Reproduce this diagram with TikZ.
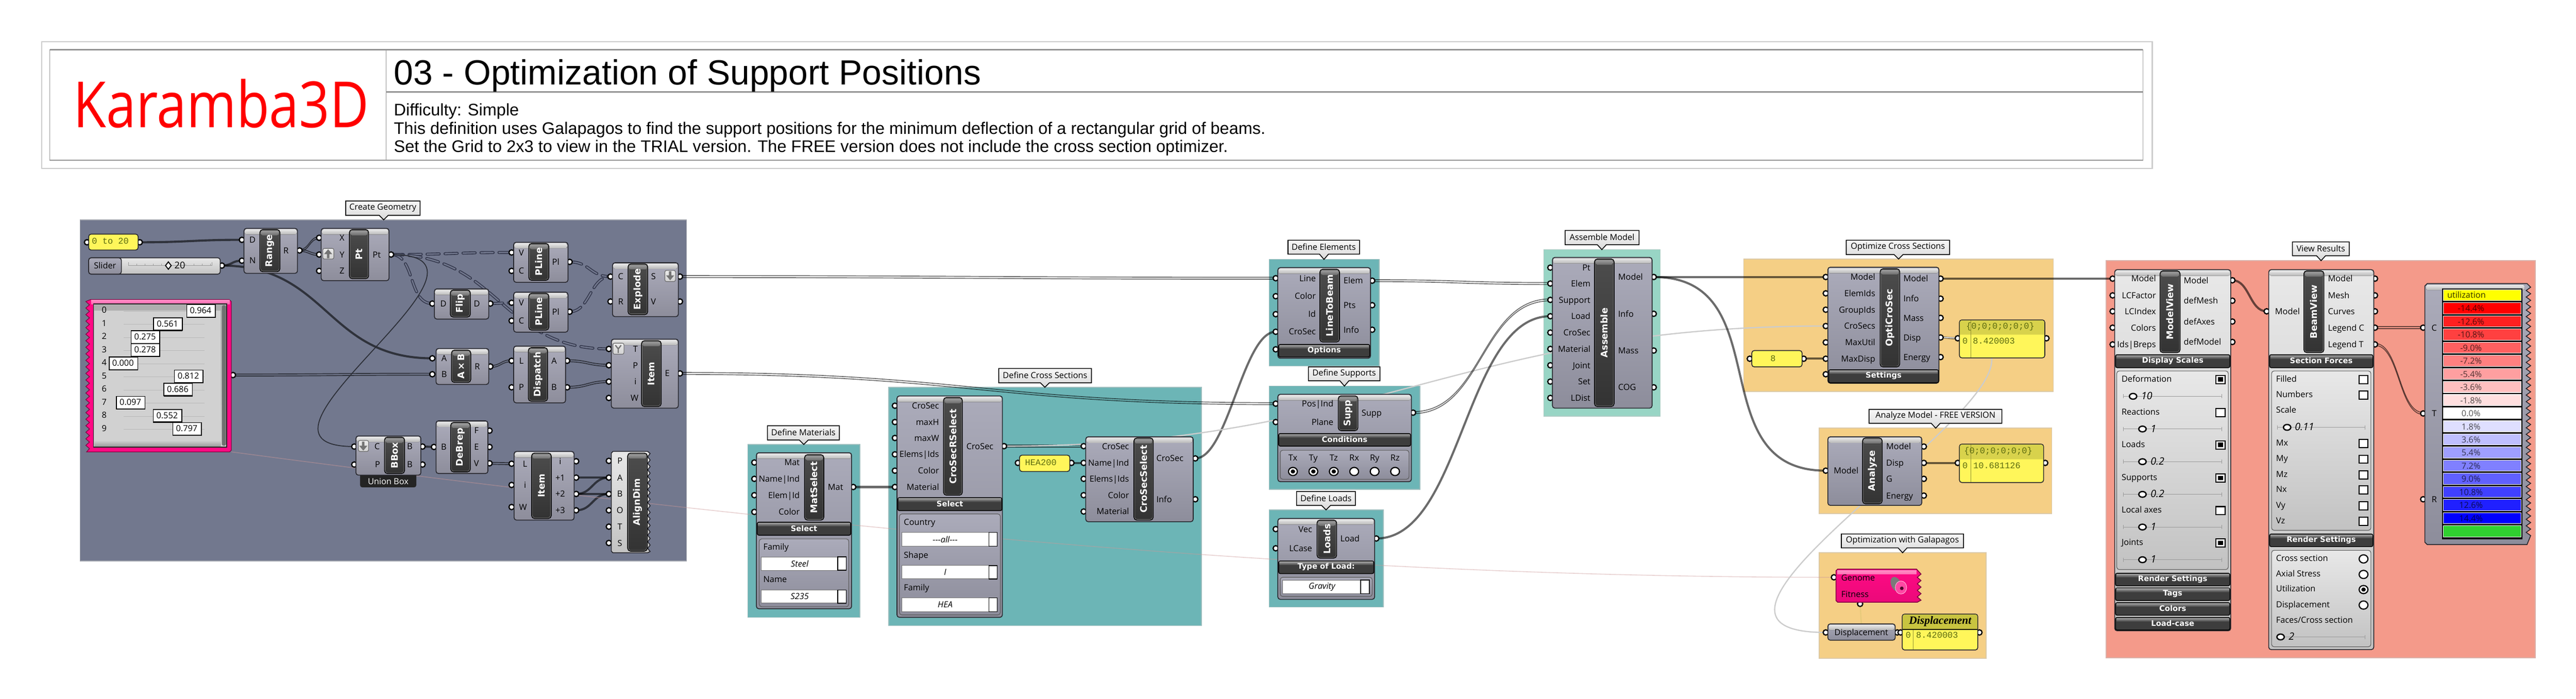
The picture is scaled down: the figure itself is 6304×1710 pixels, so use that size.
\documentclass[tikz,border=0pt]{standalone}
\usepackage{fontspec}
\usetikzlibrary{calc}
\setmainfont{Open Sans}
\newfontfamily\djv{DejaVu Sans}
\newfontfamily\libs{Liberation Sans}
\newfontfamily\monof{Liberation Mono}
\newfontfamily\serf{Liberation Serif}
\pgfdeclarelayer{grp}\pgfdeclarelayer{wires}\pgfdeclarelayer{pins}
\pgfsetlayers{grp,wires,pins,main}
\definecolor{bodyT}{HTML}{ABABBA}\definecolor{bodyB}{HTML}{8D8D9B}
\definecolor{lightT}{HTML}{E8E8E8}\definecolor{lightB}{HTML}{C2C2C2}
\definecolor{outl}{HTML}{26262C}
\definecolor{slate}{HTML}{72788E}\definecolor{teal1}{HTML}{6CB5B6}\definecolor{mint}{HTML}{98D5C5}
\definecolor{orng}{HTML}{F5CF85}\definecolor{salm}{HTML}{F49A8A}
\definecolor{ypan}{HTML}{FFF65A}\definecolor{yhead}{HTML}{D8D24C}\definecolor{yhead2}{HTML}{C8C440}\definecolor{monoc}{HTML}{5C6B10}
\definecolor{pinkc}{HTML}{FF0A84}\definecolor{pinkl}{HTML}{FF8CC4}
\definecolor{treec}{HTML}{32364A}
\newcounter{nn}
\newcommand{\fpl}{\fontsize{10.3}{12}\selectfont}
\newcommand{\fbar}{\djv\bfseries\fontsize{11.2}{13}\selectfont}
\newcommand{\fhd}{\djv\bfseries\fontsize{9.3}{11}\selectfont}
\newcommand{\fmo}{\monof\fontsize{10.7}{12}\selectfont}
\tikzset{
 txt/.style={inner sep=0pt,outer sep=0pt},
 darkbody/.style={draw=outl,line width=1pt,rounded corners=3pt,top color=bodyT,bottom color=bodyB},
 lightbody/.style={draw=outl,line width=1pt,rounded corners=3pt,top color=lightT,bottom color=lightB},
 innerdark/.style={draw=black!65,line width=.7pt,rounded corners=3pt,top color=bodyT,bottom color=bodyB},
 innerlight/.style={draw=black!65,line width=.7pt,rounded corners=3pt,top color=lightT,bottom color=lightB},
 pinst/.style={circle,minimum size=6.5pt,inner sep=0pt,fill=white,draw=black,line width=1.5pt},
 itemw/.style={draw=black,draw opacity=.58,line width=2.6pt},
 listw/.style={draw=black,draw opacity=.58,line width=1.05pt},
 treew/.style={draw=treec,line width=1pt,double=slate,double distance=1.6pt,dash pattern=on 15pt off 7pt,line cap=round},
 faintg/.style={draw=black!20,line width=1.5pt},
 faints/.style={draw=black!62!slate,line width=1.1pt},
 faintp/.style={draw=black!20!pink,draw opacity=.45,line width=1pt},
 faintk/.style={draw=yellow!50!gray,draw opacity=.3,line width=1.5pt},
 yp/.style={draw=outl,line width=1pt,rounded corners=3pt,fill=ypan},
 btnst/.style={draw=black!60,line width=.7pt,rounded corners=2pt,top color=white!92!black,bottom color=black!18},
 knobst/.style={fill=white,draw=black,line width=1.6pt},
 railst/.style={draw=black!40,line width=.7pt},
}
\newcommand{\tx}[4]{\stepcounter{nn}\node[txt,#1] (t\arabic{nn}) at ({#2},{#3}) {#4};}
\newcommand{\labR}[3]{\tx{anchor=base east,font=\fpl}{#1}{#2+7.5}{#3}}
\newcommand{\labL}[3]{\tx{anchor=base west,font=\fpl}{#1}{#2+7.5}{#3}}
\newcommand{\labC}[3]{\tx{anchor=base,font=\fpl}{#1}{#2+7.5}{#3}}
\newcommand{\pin}[3]{\begin{pgfonlayer}{pins}\node[pinst] (#1) at (#2,#3) {};\end{pgfonlayer}}
\newcommand{\pinR}[5]{\pin{#1}{#2}{#3}\labR{#4}{#3}{#5}}
\newcommand{\pinL}[5]{\pin{#1}{#2}{#3}\labL{#4}{#3}{#5}}
\newcommand{\pinC}[5]{\pin{#1}{#2}{#3}\labC{#4}{#3}{#5}}
\newcommand{\cbody}[5][darkbody]{\path[#1] (#2,#3) rectangle (#4,#5);
 \fill[rounded corners=2pt,top color=white!92!black,bottom color=white!72!black] (#2+2,#3+2) rectangle (#4-2,#3+15);}
\newcommand{\cbar}[5]{\path[draw=black,line width=1pt,rounded corners=3.5pt,top color=black!70,bottom color=black!80] (#1,#2) rectangle (#3,#4);
 \fill[rounded corners=2pt,top color=black!38,bottom color=black!58] (#1+2.5,#2+2.5) rectangle (#3-2.5,#2+14);
 \draw[black!45,line width=.4pt,rounded corners=3pt] (#1+1.5,#2+1.5) rectangle (#3-1.5,#4-1.5);
 \tx{rotate=90,text=white,font=\fbar}{(#1+#3)/2}{(#2+#4)/2}{#5}}
\newcommand{\hdr}[5]{\path[fill=black!76,draw=black,line width=.9pt,rounded corners=2pt] (#1,#2) rectangle (#3,#4);
 \fill[top color=black!38,bottom color=black!72] (#1+2,#2+2) rectangle (#3-2,#2+10);
 \tx{text=white,font=\fhd}{(#1+#3)/2}{(#2+#4)/2-1}{#5}}
\newcommand{\grpbox}[5]{\begin{pgfonlayer}{grp}\path[fill=#5,draw=#5!80!black!60!white,line width=1pt] (#1,#2) rectangle (#3,#4);\end{pgfonlayer}}
\newcommand{\callout}[7]{\path[draw=black,line width=1pt,top color=white!97!black,bottom color=black!15,line join=miter]
 (#1,#2) -- (#3,#2) -- (#3,#4) -- (#5+11,#4) -- (#5,#6) -- (#5-11,#4) -- (#1,#4) -- cycle;
 \tx{font=\fpl}{(#1+#3)/2}{(#2+#4)/2-1}{#7}}
\newcommand{\ypanel}[4]{\path[yp] (#1,#2) rectangle (#3,#4);}
\newcommand{\yhead}[5]{\fill[#5] (#1+1,#4) -- (#1+1,#2+5) -- (#1+5,#2+1) -- (#3-5,#2+1) -- (#3-1,#2+5) -- (#3-1,#4) -- cycle;}
\newcommand{\btnbox}[4]{\path[btnst] (#1,#2) rectangle (#3,#4);}
\newcommand{\arrup}[2]{\fill[black!55,shift={(#1,#2)}] (0,-11) -- (10,1) -- (3,1) -- (3,11) -- (-3,11) -- (-3,1) -- (-10,1) -- cycle;}
\newcommand{\arrdn}[2]{\fill[black!55,shift={(#1,#2)}] (0,11) -- (10,-1) -- (3,-1) -- (3,-11) -- (-3,-11) -- (-3,-1) -- (-10,-1) -- cycle;}
\newcommand{\dropd}[7]{\path[fill=white,draw=black!55,line width=.7pt] (#1,#2) rectangle (#3,#4);
 \path[fill=white,draw=black,line width=1pt] (#5,#2) rectangle (#3,#4);
 \tx{font=\fpl\itshape}{#7}{(#2+#4)/2}{#6}}
\newcommand{\chk}[3]{\path[fill=white,draw=black,line width=1.3pt] (#1-11,#2-10) rectangle (#1+11,#2+10);
 \ifnum#3=1 \fill[black] (#1-6,#2-5.5) rectangle (#1+6,#2+5.5);\fi}
\newcommand{\radio}[3]{\path[fill=white,draw=black,line width=1.4pt] (#1,#2) ellipse (5.4pt and 5pt);
 \ifnum#3=1 \fill[black] (#1,#2) ellipse (2.7pt and 2.5pt);\fi}
\newcommand{\rail}[4]{\draw[railst] (#1,#3) -- (#2,#3);\draw[railst] (#1,#3-5) -- (#1,#3+5);\draw[railst] (#2,#3-5) -- (#2,#3+5);
 \path[knobst] (#4,#3) ellipse (4.5pt and 3.5pt);}
\newcommand{\wireI}[3]{\draw[itemw] (#1.center) .. controls ($(#1.center)+(#3,0)$) and ($(#2.center)+(-#3,0)$) .. (#2.center);}
\newcommand{\wireD}[3]{\foreach \o in {-2.4,2.4}{\draw[listw] ($(#1.center)+(0,\o)$) .. controls ($(#1.center)+(#3,\o)$) and ($(#2.center)+(-#3,\o)$) .. ($(#2.center)+(0,\o)$);}}
\newcommand{\wireT}[3]{\draw[treew] (#1.center) .. controls ($(#1.center)+(#3,0)$) and ($(#2.center)+(-#3,0)$) .. (#2.center);}
\newcommand{\wireF}[4]{\draw[#4] (#1.center) .. controls ($(#1.center)+(#3,0)$) and ($(#2.center)+(-#3,0)$) .. (#2.center);}
\begin{document}
\begin{tikzpicture}[x=.5pt,y=-.5pt]
\useasboundingbox (0,0) rectangle (6304,1710);
\begin{pgfonlayer}{grp}
\fill[white] (0,0) rectangle (6304,1710);
\draw[black!20,line width=1.5pt] (102,102) rectangle (5267,412);
\draw[black!40,line width=.5pt] (122,122) rectangle (5244,392);
\draw[black!42,line width=1.7pt] (122,122) -- (5244,122) (122,392) -- (5244,392) (945,225) -- (5244,225);
\draw[black!40,line width=.5pt] (945,122) -- (945,392);
\end{pgfonlayer}
\tx{anchor=base west,xscale=.84,transform shape,text=red,font=\fontsize{78}{90}\selectfont}{180}{312}{Karamba3D}
\tx{anchor=base west,font=\libs\fontsize{42.8}{50}\selectfont}{964}{207}{03 - Optimization of Support Positions}
\tx{anchor=base west,font=\libs\fontsize{20.5}{24}\selectfont}{964}{283}{Difficulty: Simple}
\tx{anchor=base west,font=\libs\fontsize{20.5}{24}\selectfont}{964}{328}{This definition uses Galapagos to find the support positions for the minimum deflection of a rectangular grid of beams.}
\tx{anchor=base west,font=\libs\fontsize{20.5}{24}\selectfont}{964}{373}{Set the Grid to 2x3 to view in the TRIAL version. The FREE version does not include the cross section optimizer.}
% groups
\grpbox{196}{538}{1680}{1373}{slate}
\grpbox{1830}{1088}{2104}{1511}{teal1}
\grpbox{2175}{948}{2940}{1531}{teal1}
\grpbox{3106}{635}{3375}{896}{teal1}
\grpbox{3106}{945}{3475}{1198}{teal1}
\grpbox{3106}{1248}{3385}{1486}{teal1}
\grpbox{3778}{611}{4063}{1019}{mint}
\grpbox{4267}{634}{5025}{958}{orng}
\grpbox{4452}{1048}{5021}{1257}{orng}
\grpbox{4452}{1353}{4860}{1611}{orng}
\grpbox{5154}{638}{6204}{1610}{salm}
% callouts
\callout{846}{492}{1028}{527}{939}{538}{Create Geometry}
\callout{1878}{1042}{2054}{1077}{1967}{1088}{Define Materials}
\callout{2444}{902}{2671}{937}{2557}{948}{Define Cross Sections}
\callout{3152}{588}{3327}{622}{3240}{635}{Define Elements}
\callout{3202}{898}{3377}{932}{3290}{945}{Define Supports}
\callout{3173}{1203}{3317}{1237}{3245}{1248}{Define Loads}
\callout{3830}{564}{4011}{599}{3920}{611}{Assemble Model}
\callout{4518}{588}{4771}{623}{4646}{634}{Optimize Cross Sections}
\callout{4574}{1002}{4899}{1036}{4737}{1048}{Analyze Model - FREE VERSION}
\callout{4506}{1307}{4805}{1341}{4656}{1353}{Optimization with Galapagos}
\callout{5610}{592}{5749}{626}{5680}{638}{View Results}
% panel 0 to 20
\ypanel{217}{573}{338}{612}\pin{pA}{213}{593}\pin{pB}{342}{593}
\tx{anchor=west,text=monoc,font=\fmo}{225}{590}{0 to 20}
% slider
\path[lightbody] (217,631) rectangle (539,671);
\path[darkbody] (217,631) rectangle (297,671);
\pin{sldOut}{543}{650}
\labC{257}{650}{Slider}
\draw[black!40,line width=.6pt] (315,650) -- (519,650);
\foreach \x in {315,335,...,519}{\draw[black!40,line width=.6pt] (\x,645) -- (\x,650);}
\draw[black!40,line width=.6pt] (315,642) -- (315,650) (519,642) -- (519,650);
\path[fill=white,draw=black,line width=1.2pt] (412,641) -- (419,650) -- (412,659) -- (405,650) -- cycle;
\tx{anchor=base west,font=\fontsize{11.4}{13}\selectfont}{427}{658}{20}
% Range
\cbody{597}{559}{728}{669}\cbar{636}{562}{685}{665}{Range}
\pinC{rngD}{592}{587}{618}{D}\pinC{rngN}{592}{638}{618}{N}\pinC{rngR}{733}{613}{700}{R}
% Pt
\cbody{786}{559}{952}{687}\cbar{855}{562}{902}{682}{Pt}
\pinC{ptX}{781}{582}{837}{X}\pinC{ptY}{781}{623}{837}{Y}\pinC{ptZ}{781}{663}{837}{Z}\pinC{ptO}{957}{623}{922}{Pt}
\btnbox{790}{608}{817}{634}\arrup{803}{621}
% Gene pool
\fill[pinkc,draw=black!50!pinkc,line width=.8pt] (222,733) -- (561,733) -- (566,738) -- (566,1102) -- (562,1106) -- (212,1106)
 \foreach \i in {0,...,22}{ -- (219,1098-\i*16) -- (210,1090-\i*16)} -- cycle;
\fill[top color=pinkl,bottom color=pinkl!70!pinkc] (223,735) rectangle (562,744);
\path[draw=black!85,line width=1pt,top color=black!32,bottom color=black!18] (229,744) rectangle (555,1094);
\fill[black!18] (231,760) rectangle (540,1078);
\fill[top color=black!18,bottom color=black!38] (231,1078) rectangle (540,1092);
\fill[black!56,rounded corners=2pt] (543,747) rectangle (553,1091);
\pin{poolOut}{570}{918}
\coordinate (poolCorner) at (566,1106);
\foreach \i/\xl/\vv in {0/457/0.964,1/376/0.561,2/321/0.275,3/321/0.278,4/267/0.000,5/427/0.812,6/401/0.686,7/285/0.097,8/375/0.552,9/423/0.797}{
 \pgfmathsetmacro\yy{761+32.1*\i}
 \labC{255}{\yy-2}{\i}
 \draw[black!28,line width=.7pt] (302,\yy+1) -- (500,\yy+1);
 \path[fill=white,draw=black,line width=1pt] (\xl,\yy-15.5) rectangle (\xl+70,\yy+15.5);
 \draw[black,line width=1.5pt] (\xl,\yy+15.5) -- (\xl+70,\yy+15.5);
 \tx{font=\fpl}{\xl+34}{\yy-1}{\vv}
}
% Flip
\cbody{1063}{707}{1196}{781}\cbar{1102}{710}{1151}{776}{Flip}
\pinC{flpI}{1058}{743}{1085}{D}\pinC{flpO}{1200}{743}{1167}{D}
% PLine
\cbody{1257}{593}{1390}{691}\cbar{1294}{596}{1343}{686}{PLine}
\pinC{pl1V}{1252}{618}{1276}{V}\pinC{pl1C}{1252}{663}{1276}{C}\pinC{pl1O}{1394}{641}{1360}{Pl}
\cbody{1257}{715}{1390}{813}\cbar{1294}{718}{1343}{808}{PLine}
\pinC{pl2V}{1252}{741}{1276}{V}\pinC{pl2C}{1252}{785}{1276}{C}\pinC{pl2O}{1394}{763}{1360}{Pl}
% Explode
\cbody{1499}{643}{1660}{775}\cbar{1537}{646}{1585}{770}{Explode}
\pinC{expC}{1494}{677}{1519}{C}\pinC{expR}{1494}{738}{1519}{R}\pinC{expS}{1664}{677}{1599}{S}\pinC{expV}{1664}{738}{1599}{V}
\btnbox{1627}{662}{1653}{689}\arrdn{1640}{675}
% AxB
\cbody{1067}{853}{1196}{941}\cbar{1105}{857}{1152}{936}{A\,×\,B}
\pinC{abA}{1058}{877}{1087}{A}\pinC{abB}{1058}{916}{1087}{B}\pinC{abR}{1200}{897}{1168}{R}
% Dispatch
\cbody{1257}{847}{1384}{986}\cbar{1293}{851}{1340}{982}{Dispatch}
\pinC{dspL}{1252}{883}{1276}{L}\pinC{dspP}{1252}{948}{1276}{P}\pinC{dspA}{1388}{883}{1356}{A}\pinC{dspB}{1388}{948}{1356}{B}
% Item 1
\cbody{1496}{830}{1660}{999}\cbar{1570}{834}{1618}{995}{Item}
\pinC{it1T}{1490}{854}{1555}{T}\pinC{it1P}{1490}{894}{1555}{P}\pinC{it1i}{1490}{934}{1555}{i}\pinC{it1W}{1490}{974}{1553}{W}\pinC{it1E}{1664}{914}{1633}{E}
\btnbox{1500}{840}{1527}{867}
\draw[black!55,line width=1.5pt] (1506,845) -- (1513,854) -- (1520,845) (1513,854) -- (1513,864);
% BBox
\path[fill=black!86,rounded corners=3pt] (881,1150) rectangle (1019,1193);
\tx{text=white,font=\fpl}{950}{1178}{Union Box}
\cbody{871}{1067}{1030}{1163}\cbar{941}{1070}{990}{1159}{BBox}
\pinC{bbC}{867}{1093}{923}{C}\pinC{bbP}{867}{1137}{924}{P}\pinC{bbB1}{1034}{1093}{1003}{B}\pinC{bbB2}{1034}{1137}{1003}{B}
\btnbox{877}{1078}{902}{1105}\arrdn{889}{1092}
% DeBrep
\cbody{1067}{1030}{1194}{1159}\cbar{1103}{1034}{1151}{1155}{DeBrep}
\pinC{dbB}{1062}{1094}{1086}{B}\pinC{dbF}{1198}{1054}{1166}{F}\pinC{dbE}{1198}{1094}{1166}{E}\pinC{dbV}{1198}{1134}{1166}{V}
% Item 2
\cbody{1258}{1105}{1405}{1273}\cbar{1301}{1109}{1349}{1269}{Item}
\pinC{it2L}{1252}{1135}{1285}{L}\pinC{it2i}{1252}{1187}{1285}{i}\pinC{it2W}{1252}{1241}{1280}{W}
\pinC{it2o}{1410}{1129}{1371}{i}\pinC{it2a}{1410}{1169}{1371}{+1}\pinC{it2b}{1410}{1209}{1371}{+2}\pinC{it2c}{1410}{1249}{1371}{+3}
% AlignDim
\path[draw=outl,line width=1pt,top color=lightT,bottom color=lightB] (1500,1105) -- (1585,1105) -- (1591,1110)
 \foreach \i in {0,...,14}{ -- (1585,1118+\i*16) -- (1591,1126+\i*16)} -- (1585,1353) -- (1500,1353) -- (1496,1349) -- (1496,1109) -- cycle;
\cbar{1536}{1109}{1584}{1349}{AlignDim}
\foreach \n/\y/\lb in {P/1128/P,A/1169/A,B/1209/B,O/1249/O,T/1289/T,S/1329/S}{\pinC{ald\n}{1490}{\y}{1517}{\lb}}
% MatSelect
\cbody{1851}{1108}{2084}{1490}\cbar{1969}{1113}{2016}{1273}{MatSelect}
\foreach \n/\y/\lb in {a/1132/Mat,b/1172/Name|Ind,c/1212/Elem|Id,d/1253/Color}{\pinR{mat\n}{1846}{\y}{1957}{\lb}}
\pinL{matO}{2088}{1192}{2026}{Mat}
\hdr{1853}{1278}{2082}{1310}{Select}
\path[innerdark] (1858,1319) rectangle (2077,1485);
\labL{1868}{1338}{Family}\dropd{1863}{1363}{2071}{1396}{2050}{Steel}{1957}
\labL{1868}{1418}{Name}\dropd{1863}{1444}{2071}{1476}{2050}{S235}{1957}
% CroSecRSelect
\cbody{2195}{969}{2453}{1511}\cbar{2309}{973}{2355}{1212}{CroSecRSelect}
\foreach \n/\y/\lb in {a/993/CroSec,b/1033/maxH,c/1072/maxW,d/1112/Elems|Ids,e/1152/Color,f/1192/Material}{\pinR{csr\n}{2190}{\y}{2298}{\lb}}
\pinL{csrO}{2457}{1092}{2365}{CroSec}
\hdr{2197}{1218}{2452}{1250}{Select}
\path[innerdark] (2201,1258) rectangle (2448,1505);
\labL{2212}{1278}{Country}\dropd{2207}{1303}{2440}{1337}{2420}{{-}{-}{-}all{-}{-}{-}}{2313}
\labL{2212}{1358}{Shape}\dropd{2207}{1384}{2440}{1417}{2420}{I}{2313}
\labL{2212}{1438}{Family}\dropd{2207}{1463}{2440}{1497}{2420}{HEA}{2313}
% HEA200
\ypanel{2495}{1114}{2618}{1154}\pin{heaI}{2491}{1133}\pin{heaO}{2622}{1133}
\tx{text=monoc,font=\fmo}{2547}{1132}{HEA200}
% CroSecSelect
\cbody{2657}{1069}{2920}{1277}\cbar{2775}{1072}{2822}{1273}{CroSecSelect}
\foreach \n/\y/\lb in {a/1092/CroSec,b/1133/Name|Ind,c/1172/Elems|Ids,d/1212/Color,e/1252/Material}{\pinR{css\n}{2652}{\y}{2763}{\lb}}
\pinL{cssO}{2925}{1122}{2830}{CroSec}\pinL{cssI}{2925}{1222}{2830}{Info}
% LineToBeam
\cbody{3127}{655}{3354}{877}\cbar{3230}{659}{3278}{837}{LineToBeam}
\foreach \n/\y/\lb in {a/681/Line,b/725/Color,c/769/Id,d/812/CroSec}{\pinR{ltb\n}{3122}{\y}{3220}{\lb}}
\pin{ltbe}{3122}{855}
\pinL{ltbO}{3358}{687}{3288}{Elem}\pinL{ltbP}{3358}{747}{3288}{Pts}\pinL{ltbI}{3358}{807}{3288}{Info}
\hdr{3129}{843}{3352}{874}{Options}
% Supp
\cbody{3127}{965}{3454}{1179}\cbar{3275}{969}{3323}{1054}{Supp}
\pinR{supA}{3122}{988}{3263}{Pos|Ind}\pinR{supB}{3122}{1033}{3263}{Plane}\pinL{supO}{3458}{1010}{3332}{Supp}
\hdr{3129}{1061}{3452}{1092}{Conditions}
\path[innerdark] (3133,1102) rectangle (3448,1173);
\foreach \x/\lb/\on in {3164/Tx/1,3214/Ty/1,3264/Tz/1,3314/Rx/0,3364/Ry/0,3414/Rz/0}{\labC{\x}{1120}{\lb}\radio{\x}{1154}{\on}}
% Loads
\cbody{3127}{1269}{3364}{1467}\cbar{3223}{1273}{3271}{1366}{Loads}
\pinR{lodA}{3122}{1295}{3211}{Vec}\pinR{lodB}{3122}{1342}{3211}{LCase}\pinL{lodO}{3368}{1318}{3280}{Load}
\hdr{3129}{1373}{3362}{1404}{Type of Load:}
\path[innerdark] (3133,1413) rectangle (3358,1460);
\dropd{3139}{1420}{3351}{1453}{3330}{Gravity}{3235}
% Assemble
\cbody{3799}{630}{4043}{999}\cbar{3902}{634}{3950}{995}{Assemble}
\foreach \n/\y/\lb in {a/655/Pt,b/694/Elem,c/734/Support,d/774/Load,e/814/CroSec,f/854/Material,g/894/Joint,h/934/Set,i/974/LDist}{\pinR{asm\n}{3794}{\y}{3892}{\lb}}
\pinL{asmO}{4047}{678}{3960}{Model}\pinL{asmI}{4047}{768}{3960}{Info}\pinL{asmM}{4047}{858}{3960}{Mass}\pinL{asmC}{4047}{948}{3960}{COG}
% OptiCroSec
\cbody{4473}{654}{4745}{938}\cbar{4601}{658}{4649}{898}{OptiCroSec}
\foreach \n/\y/\lb in {a/678/Model,b/718/ElemIds,c/758/GroupIds,d/798/CroSecs,e/838/MaxUtil,f/878/MaxDisp}{\pinR{opt\n}{4468}{\y}{4589}{\lb}}
\pin{optg}{4468}{916}
\foreach \n/\y/\lb in {A/682/Model,B/731/Info,C/778/Mass,D/826/Disp,E/874/Energy}{\pinL{opt\n}{4749}{\y}{4658}{\lb}}
\hdr{4475}{905}{4744}{937}{Settings}
\ypanel{4287}{858}{4410}{898}\pin{eigI}{4282}{878}\pin{eigO}{4414}{878}
\tx{text=monoc,font=\fmo}{4339}{877}{8}
% panel opt disp
\ypanel{4795}{783}{5004}{876}\yhead{4795}{783}{5004}{819}{yhead}
\draw[black!30!yhead,line width=.5pt] (4823,784) -- (4823,875);
\pin{pdI}{4791}{828}\pin{pdO}{5008}{828}
\tx{text=monoc,font=\fmo}{4895}{800}{\{0;0;0;0;0;0\}}
\tx{text=monoc,font=\fmo}{4809}{834}{0}\tx{anchor=west,text=monoc,font=\fmo}{4828}{834}{8.420003}
% Analyze
\cbody{4473}{1069}{4703}{1237}\cbar{4558}{1072}{4606}{1233}{Analyze}
\pinR{anaI}{4468}{1152}{4548}{Model}
\foreach \n/\y/\lb in {A/1093/Model,B/1133/Disp,C/1172/G,D/1213/Energy}{\pinL{ana\n}{4708}{\y}{4616}{\lb}}
\ypanel{4795}{1087}{5001}{1181}\yhead{4795}{1087}{5001}{1124}{yhead}
\draw[black!30!yhead,line width=.5pt] (4823,1088) -- (4823,1180);
\pin{paI}{4791}{1133}\pin{paO}{5005}{1133}
\tx{text=monoc,font=\fmo}{4890}{1104}{\{0;0;0;0;0;0\}}
\tx{text=monoc,font=\fmo}{4809}{1139}{0}\tx{anchor=west,text=monoc,font=\fmo}{4829}{1139}{10.681126}
% Galapagos
\pin{galG}{4488}{1413}\pin{galF}{4552}{1478}
\path[draw=black!50!pinkc,line width=1pt,top color=pinkc,bottom color=pinkc!92!black] (4497,1393) -- (4690,1393) -- (4701,1405)
 \foreach \i in {0,...,3}{ -- (4692,1413+\i*16) -- (4701,1421+\i*16)} -- (4692,1474) -- (4497,1474) -- (4493,1470) -- (4493,1397) -- cycle;
\fill[top color=pinkl,bottom color=pinkl!80!pinkc] (4496,1396) rectangle (4690,1405);
\labL{4506}{1414}{Genome}\labL{4506}{1454}{Fitness}
\fill[black!52,rotate around={25:(4640,1430)}] (4640,1430) ellipse (6pt and 9.5pt);
\fill[pinkc!75!white,draw=white!70!pinkc,line width=.6pt] (4652,1438) ellipse (7pt and 8pt);
\fill[black!70!pinkc] (4654,1440) circle (2.2pt);
% Displacement
\cbody{4473}{1527}{4638}{1567}\pin{dspnI}{4468}{1548}\pin{dspnO}{4643}{1548}
\labC{4555}{1548}{Displacement}
\coordinate (dspnTop) at (4555,1527);
\ypanel{4655}{1503}{4840}{1591}\yhead{4655}{1503}{4840}{1541}{yhead2}
\draw[black,line width=1pt] (4656,1541) -- (4839,1541);
\draw[black!30!yhead,line width=.5pt] (4682,1542) -- (4682,1590);
\pin{pgI}{4651}{1548}\pin{pgO}{4844}{1548}
\tx{font=\serf\bfseries\itshape\fontsize{13.6}{15}\selectfont}{4748}{1521}{Displacement}
\tx{text=monoc,font=\fmo}{4670}{1555}{0}\tx{anchor=west,text=monoc,font=\fmo}{4689}{1555}{8.420003}
% ModelView
\cbody[lightbody]{5175}{660}{5459}{1544}\cbar{5286}{663}{5335}{863}{ModelView}
\foreach \n/\y/\lb in {a/682/Model,b/723/LCFactor,c/762/LCIndex,d/802/Colors,e/843/Ids|Breps}{\pinR{mv\n}{5170}{\y}{5276}{\lb}}
\foreach \n/\y/\lb in {A/686/Model,B/736/defMesh,C/787/defAxes,D/837/defModel}{\pinL{mv\n}{5463}{\y}{5344}{\lb}}
\hdr{5177}{868}{5457}{900}{Display Scales}
\path[innerlight] (5180,908) rectangle (5453,1394);
\foreach \y/\sy/\lb/\on/\kx/\vv in {927/970/Deformation/1/5220/10,1008/1050/Reactions/0/5243/1,1087/1130/Loads/1/5243/0.2,1168/1210/Supports/1/5243/0.2,1248/1290/Local axes/0/5243/1,1327/1370/Joints/1/5243/1}{
 \labL{5192}{\y}{\lb}\chk{5434}{\y+2}{\on}\rail{5196}{5437}{\sy}{\kx}
 \tx{anchor=west,font=\fontsize{12.4}{14}\selectfont\itshape}{\kx+20}{\sy-1}{\vv}}
\hdr{5177}{1403}{5457}{1434}{Render Settings}
\hdr{5177}{1439}{5457}{1470}{Tags}
\hdr{5177}{1475}{5457}{1506}{Colors}
\hdr{5177}{1511}{5457}{1542}{Load-case}
% BeamView
\cbody[lightbody]{5552}{660}{5809}{1590}\cbar{5638}{663}{5687}{863}{BeamView}
\pinR{bvI}{5547}{762}{5628}{Model}
\foreach \n/\y/\lb in {a/682/Model,b/723/Mesh,c/762/Curves,d/802/Legend C,e/843/Legend T}{\pinL{bv\n}{5812}{\y}{5697}{\lb}}
\hdr{5554}{868}{5807}{900}{Section Forces}
\path[innerlight] (5559,908) rectangle (5802,1298);
\foreach \y/\lb in {927/Filled,965/Numbers,1084/Mx,1122/My,1160/Mz,1197/Nx,1236/Vy,1274/Vz}{\labL{5570}{\y}{\lb}\chk{5784}{\y+2}{0}}
\labL{5570}{1003}{Scale}\rail{5573}{5788}{1046}{5597}
\tx{anchor=west,font=\fontsize{12.4}{14}\selectfont\itshape}{5616}{1045}{0.11}
\hdr{5554}{1307}{5807}{1338}{Render Settings}
\path[innerlight] (5559,1347) rectangle (5802,1583);
\foreach \y/\lb/\on in {1366/Cross section/0,1404/Axial Stress/0,1441/Utilization/1,1479/Displacement/0}{\labL{5570}{\y}{\lb}\radio{5784}{\y+2}{\on}}
\labL{5570}{1517}{Faces/Cross section}\rail{5573}{5788}{1559}{5581}
\tx{anchor=west,font=\fontsize{12.4}{14}\selectfont\itshape}{5601}{1558}{2}
% Legend
\path[draw=outl,line width=1pt,top color=bodyT,bottom color=bodyB] (5940,694) -- (6184,694) -- (6193,703)
 \foreach \i in {0,...,37}{ -- (6182,711+\i*16) -- (6193,719+\i*16)} -- (6184,1333) -- (5940,1333) -- (5934,1327) -- (5934,700) -- cycle;
\fill[rounded corners=2pt,top color=white!92!black,bottom color=white!72!black] (5937,697) rectangle (6178,710);
\pinC{lgC}{5930}{802}{5957}{C}\pinC{lgT}{5930}{1012}{5957}{T}\pinC{lgR}{5930}{1222}{5957}{R}
\fill[black] (5976,706) rectangle (6173,1320);
\foreach \i/\c/\lb in {0/FFFF00/utilization,1/FF0000/-14.4\%,2/FF2020/-12.6\%,3/FF4040/-10.8\%,4/FF6060/-9.0\%,5/FF8080/-7.2\%,6/FF9FA0/-5.4\%,7/FFBFBF/-3.6\%,8/FFDFDF/-1.8\%,9/FFFFFF/0.0\%,10/DFDFFF/1.8\%,11/BFBFFF/3.6\%,12/9F9FFF/5.4\%,13/8080FF/7.2\%,14/6060FF/9.0\%,15/4040FF/10.8\%,16/2020FF/12.6\%,17/0000FF/14.4\%,18/30D030/{}}{
 \definecolor{rowc}{HTML}{\c}
 \pgfmathsetmacro\yy{722.5+32.1*\i}
 \path[fill=rowc,draw=white,line width=.7pt] (5979,\yy-13.5) rectangle (6170,\yy+13.5);
 \ifnum\i=0 \tx{anchor=base,font=\fpl,text opacity=.8}{6036}{\yy+7}{\lb}\else\tx{anchor=base,font=\fpl,text opacity=.68}{6047}{\yy+8}{\lb}\fi
}
% wires
\begin{pgfonlayer}{wires}
\wireF{cssO}{ltbd}{80}{itemw}
\wireI{pB}{rngD}{120}
\wireI{sldOut}{rngN}{25}
\wireI{sldOut}{abA}{260}
\wireD{rngR}{ptX}{24}
\wireD{rngR}{ptY}{24}
\wireT{ptO}{pl1V}{148}
\wireT{ptO}{flpI}{60}
\wireT{ptO}{it1T}{266}
\wireT{flpO}{pl2V}{26}
\wireT{pl1O}{expC}{50}
\wireT{pl2O}{expC}{50}
\wireD{poolOut}{abB}{240}
\wireD{abR}{dspL}{26}
\wireD{dspA}{it1P}{50}
\wireD{dspB}{it1i}{50}
\wireD{expS}{ltba}{700}
\wireD{it1E}{supA}{700}
\wireF{ptO}{bbC}{340}{faints}
\wireI{bbB1}{dbB}{14}
\wireD{dbV}{it2L}{26}
\wireI{it2a}{aldA}{40}
\wireI{it2b}{aldA}{40}
\wireI{it2b}{aldB}{40}
\wireI{it2c}{aldB}{40}
\draw[faintp] (poolCorner) .. controls ($(poolCorner)+(1534,204)$) and ($(galG.center)+(-1188,0)$) .. (galG.center);
\wireI{matO}{csrf}{50}
\wireD{csrO}{cssa}{95}
\wireI{heaO}{cssb}{15}
\wireF{csrO}{optd}{900}{faintg}
\wireD{ltbO}{asmb}{220}
\wireD{supO}{asmc}{170}
\wireI{lodO}{asmd}{210}
\wireI{asmO}{opta}{210}
\wireI{asmO}{anaI}{310}
\wireI{eigO}{optf}{25}
\wireI{optD}{pdI}{20}
\wireI{anaB}{paI}{40}
\wireI{optA}{mva}{210}
\wireF{optD}{dspnI}{525}{faintg}
\draw[faintk] (galF.center) -- (dspnTop);
\wireI{dspnO}{pgI}{3}
\wireI{mvA}{bvI}{42}
\wireD{bvd}{lgC}{60}
\wireD{bve}{lgT}{60}
\end{pgfonlayer}
\end{tikzpicture}
\end{document}
